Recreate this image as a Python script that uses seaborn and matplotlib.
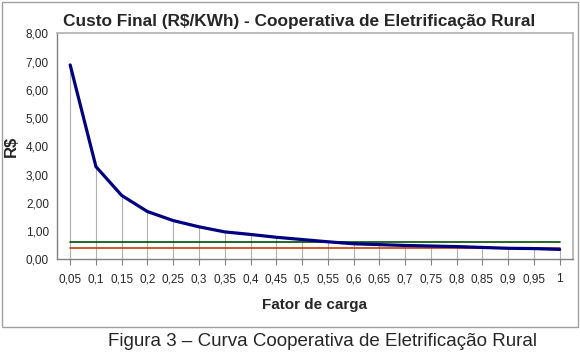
import numpy as np
import pandas as pd
import seaborn as sns
from matplotlib import pyplot as plt
from matplotlib.patches import Rectangle

# %% data
fator_carga = [0.05, 0.10, 0.15, 0.20, 0.25, 0.30, 0.35, 0.40, 0.45, 0.50,
               0.55, 0.60, 0.65, 0.70, 0.75, 0.80, 0.85, 0.90, 0.95, 1.00]
custo_final = [6.88, 3.28, 2.26, 1.69, 1.37, 1.15, 0.97, 0.88, 0.78, 0.70,
               0.62, 0.55, 0.52, 0.49, 0.47, 0.45, 0.42, 0.39, 0.38, 0.35]
nivel_verde = [0.61] * len(fator_carga)
nivel_laranja = [0.40] * len(fator_carga)
x_labels = ["0,05", "0,1", "0,15", "0,2", "0,25", "0,3", "0,35", "0,4", "0,45", "0,5",
            "0,55", "0,6", "0,65", "0,7", "0,75", "0,8", "0,85", "0,9", "0,95", "1"]
y_ticks = [0, 1, 2, 3, 4, 5, 6, 7, 8]

df = pd.DataFrame({"fator": fator_carga, "custo": custo_final,
                   "verde": nivel_verde, "laranja": nivel_laranja})

# %% figure
sns.set_style("white")
plt.rcParams["font.family"] = ["Liberation Sans", "DejaVu Sans"]

fig = plt.figure(figsize=(5.8, 3.52), dpi=100)
ax = fig.add_axes([57.3 / 580, 1 - 259.3 / 352, (572.5 - 57.3) / 580, (259.3 - 33.3) / 352])

# drop lines from the curve to the axis
ax.vlines(df.fator, 0, df.custo, color="#b0b0b0", linewidth=0.8, zorder=1)

sns.lineplot(data=df, x="fator", y="verde", color="#004d00", linewidth=1.2, ax=ax, zorder=2)
sns.lineplot(data=df, x="fator", y="laranja", color="#c0400a", linewidth=1.2, ax=ax, zorder=2)
sns.lineplot(data=df, x="fator", y="custo", color="#000080", linewidth=2.3, ax=ax, zorder=3)

ax.set_xlim(0.025, 1.025)
ax.set_ylim(0, 8)
ax.set_xticks(fator_carga)
ax.set_xticklabels(x_labels, fontsize=8.5)
ax.set_xticks(np.arange(0.025, 1.03, 0.05), minor=True)
ax.set_yticks(y_ticks)
ax.set_yticklabels([f"{v:.2f}".replace(".", ",") for v in y_ticks], fontsize=8.5)
ax.tick_params(axis="x", which="minor", length=4, color="#808080", width=0.8)
ax.tick_params(axis="x", which="major", bottom=True, length=4, color="#808080", width=0.8, pad=6)
ax.tick_params(axis="y", length=4, color="#808080", width=0.8, pad=2)

for side in ["left", "bottom"]:
    ax.spines[side].set_color("#808080")
    ax.spines[side].set_linewidth(1.0)
for side in ["top", "right"]:
    ax.spines[side].set_color("#b0b0b0")
    ax.spines[side].set_linewidth(1.2)

ax.set_xlabel("Fator de carga", fontsize=11, fontweight="bold", labelpad=9)
ax.set_ylabel("R$", fontsize=12, fontweight="bold", labelpad=5)
ax.set_title("Custo Final (R$/KWh) - Cooperativa de Eletrificação Rural",
             fontsize=12.4, fontweight="bold", pad=5, x=0.47)

# chart border
fig.patches.append(Rectangle((1.5 / 580, 1 - 326.5 / 352), 576 / 580, 325 / 352,
                             transform=fig.transFigure, fill=False,
                             edgecolor="#a0a0a0", linewidth=1.0))

fig.text(323 / 580, 1 - 341 / 352, "Figura 3 – Curva Cooperativa de Eletrificação Rural",
         ha="center", va="center", fontsize=13.5)

fig.savefig("out.png", dpi=100, facecolor="white")
